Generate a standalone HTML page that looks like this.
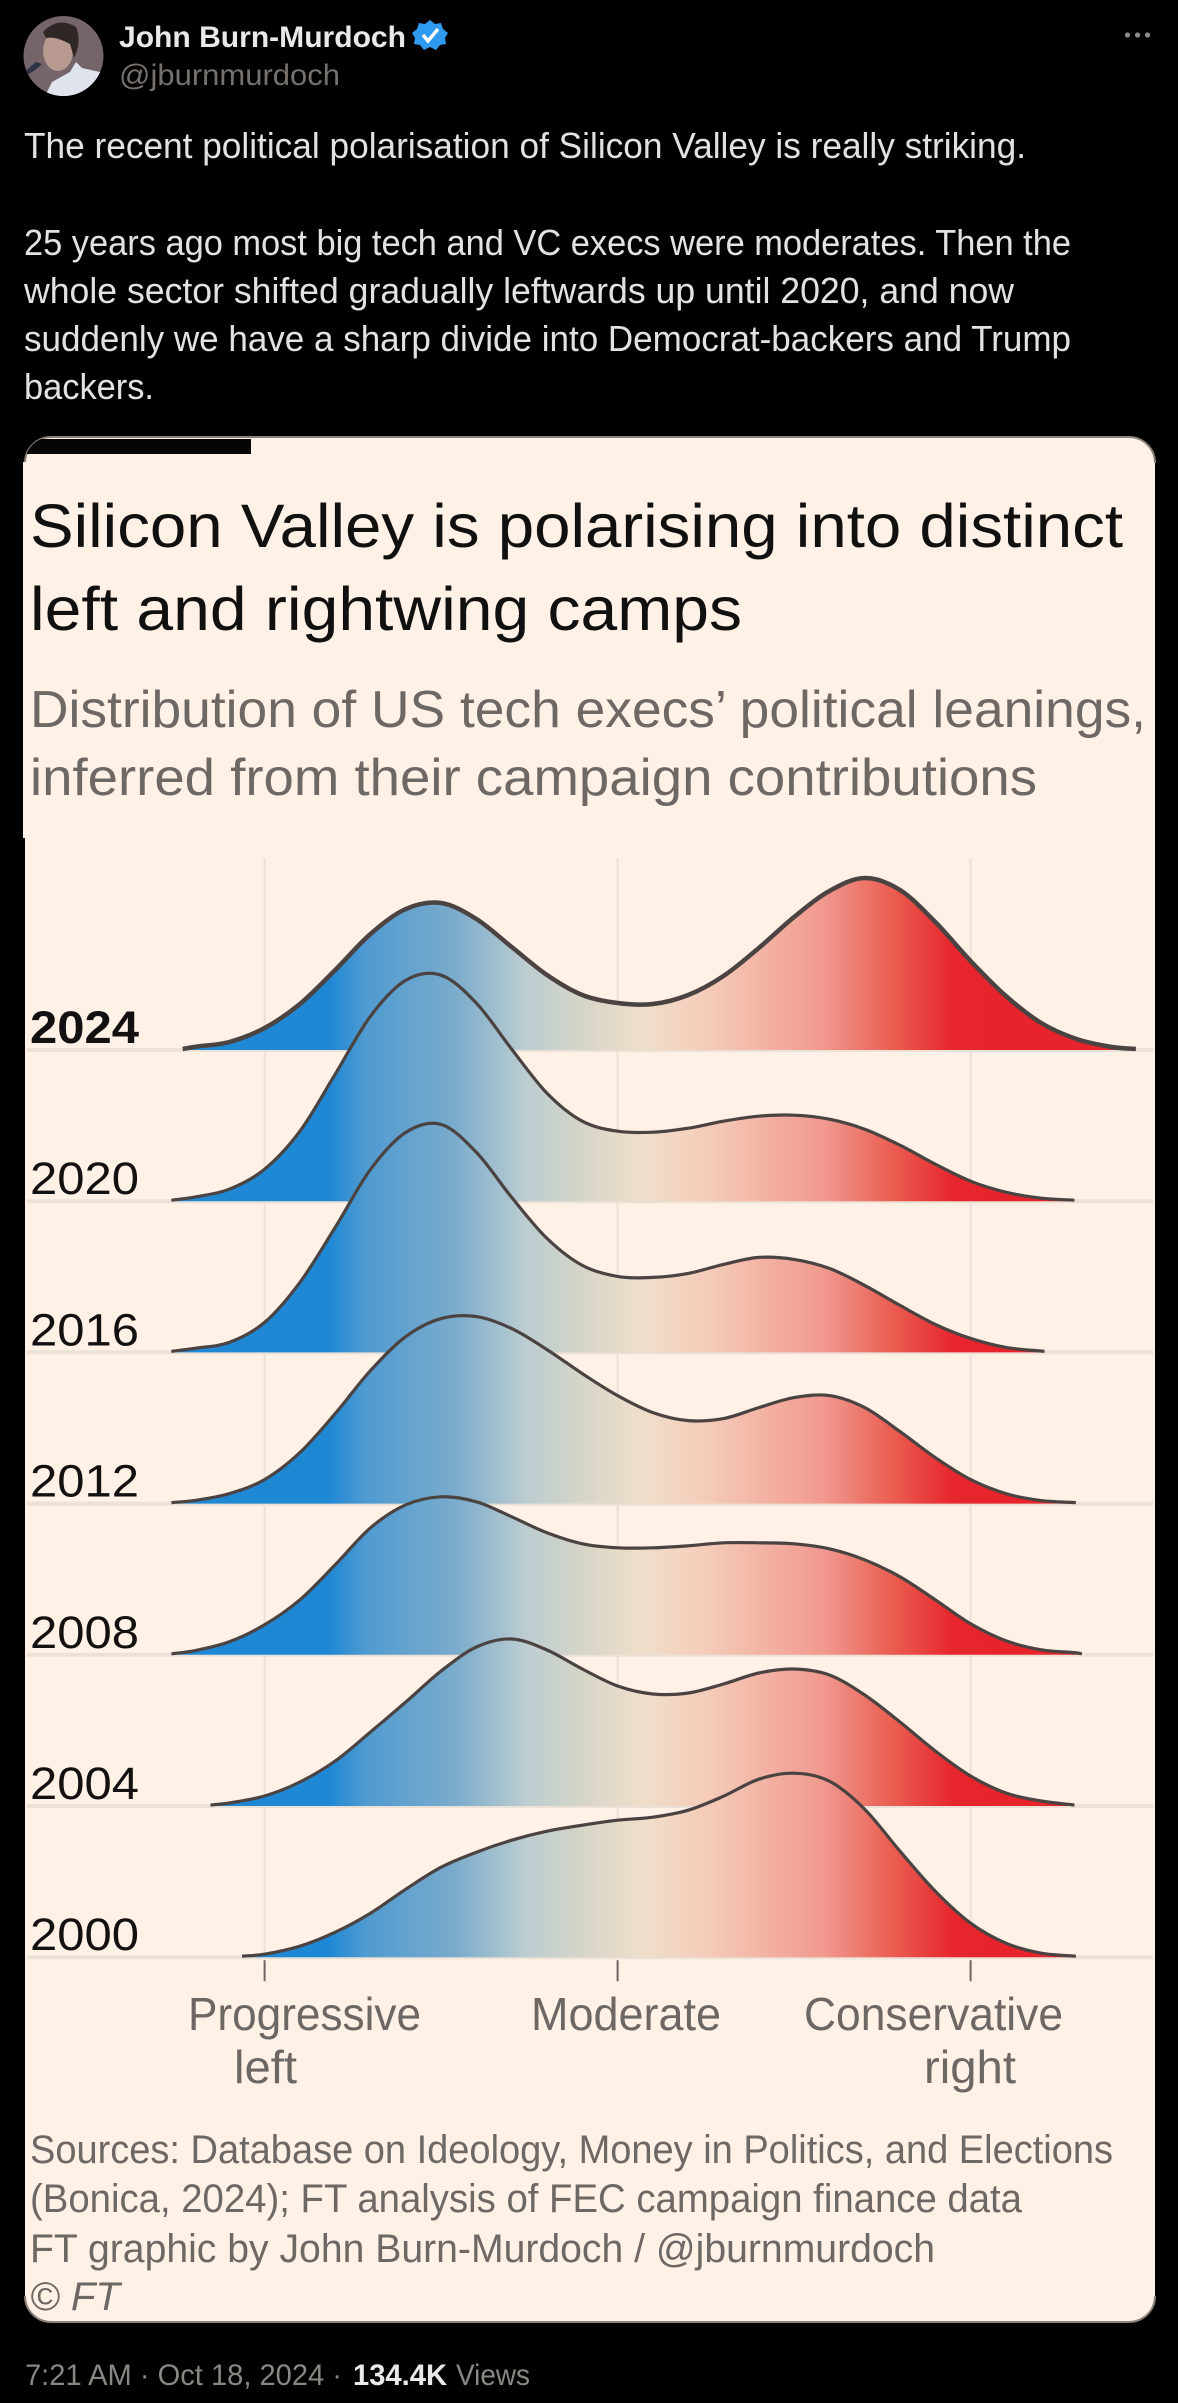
<!DOCTYPE html>
<html lang="en">
<head>
<meta charset="utf-8">
<title>Silicon Valley is polarising</title>
<style>
html,body{margin:0;padding:0;background:#000;width:1178px;height:2403px;overflow:hidden}
svg{display:block}
text{font-family:"Liberation Sans",sans-serif}
</style>
</head>
<body>
<svg id="page" xmlns="http://www.w3.org/2000/svg" width="1178" height="2403" viewBox="0 0 1178 2403">
  <defs>
    <linearGradient id="ideologyGradient" gradientUnits="userSpaceOnUse" x1="0" y1="0" x2="1178" y2="0">
      <stop offset="0.28" stop-color="#1f88d5"/>
      <stop offset="0.31" stop-color="#4f9bd1"/>
      <stop offset="0.385" stop-color="#79abcc"/>
      <stop offset="0.447" stop-color="#bccdd0"/>
      <stop offset="0.50" stop-color="#d9d6c8"/>
      <stop offset="0.545" stop-color="#efdfca"/>
      <stop offset="0.60" stop-color="#f5ccb9"/>
      <stop offset="0.70" stop-color="#f1988e"/>
      <stop offset="0.755" stop-color="#ea6053"/>
      <stop offset="0.81" stop-color="#e7252c"/>
      <stop offset="1" stop-color="#e7222b"/>
    </linearGradient>
    <clipPath id="avatarClip"><circle cx="63.5" cy="56" r="40"/></clipPath>
    <clipPath id="cardClip"><rect x="25" y="437" width="1130" height="1885" rx="26"/></clipPath>
  </defs>

  <g>
    <g clip-path="url(#avatarClip)">
      <rect x="20" y="14" width="90" height="84" fill="#75656a"/>
      <path d="M44 98 L52 82 L70 72 L76 62 L82 68 L100 72 L106 98 Z" fill="#dfe4ec"/>
      <ellipse cx="58" cy="51" rx="15" ry="20" fill="#b89a90"/>
      <path d="M43 32 Q58 16 76 27 Q82 42 74 58 L70 44 Q56 36 46 38 Z" fill="#2f2725"/>
      <path d="M26 76 L38 68 L42 64 L36 62 L24 72 Z" fill="#2d3444"/>
    </g>
    <text x="119" y="47" font-size="30" font-weight="700" fill="#e7e9ea" textLength="287" lengthAdjust="spacingAndGlyphs">John Burn-Murdoch</text>
    <g>
      <path d="M430 20 L435 24 L441 23 L443 29 L448 33 L445 38 L446 44 L440 45 L436 50 L430 47 L424 50 L420 45 L414 44 L415 38 L412 33 L417 29 L419 23 L425 24 Z" fill="#2f9bf0"/>
      <path d="M423 35 L428 41 L438 29" fill="none" stroke="#fff" stroke-width="3.4"/>
    </g>
    <text x="119" y="85" font-size="30" fill="#76716d" textLength="221" lengthAdjust="spacingAndGlyphs">@jburnmurdoch</text>
    <g fill="#8c8c8c">
      <circle cx="1127.5" cy="35" r="2.6"/><circle cx="1137.5" cy="35" r="2.6"/><circle cx="1147.5" cy="35" r="2.6"/>
    </g>
  </g>

  <g font-size="36" fill="#e2e2e0">
    <text x="24" y="158" textLength="1002" lengthAdjust="spacingAndGlyphs">The recent political polarisation of Silicon Valley is really striking.</text>
    <text x="24" y="255" textLength="1047" lengthAdjust="spacingAndGlyphs">25 years ago most big tech and VC execs were moderates. Then the</text>
    <text x="24" y="303" textLength="990" lengthAdjust="spacingAndGlyphs">whole sector shifted gradually leftwards up until 2020, and now</text>
    <text x="24" y="351" textLength="1047" lengthAdjust="spacingAndGlyphs">suddenly we have a sharp divide into Democrat-backers and Trump</text>
    <text x="24" y="399" textLength="130" lengthAdjust="spacingAndGlyphs">backers.</text>
  </g>

  <g>
    <rect x="25" y="437" width="1130" height="1885" rx="26" fill="#fff1e5"/>
    <path d="M25 463 A26 26 0 0 1 51 437 H1129 A26 26 0 0 1 1155 463" fill="none" stroke="#8a8279" stroke-width="2"/>
    <path d="M25 2296 A26 26 0 0 0 51 2322 H1129 A26 26 0 0 0 1155 2296" fill="none" stroke="#8a8279" stroke-width="2"/>
    <rect x="23" y="462" width="3" height="376" fill="#fff1e5"/>
    <rect x="25" y="439" width="226" height="15" fill="#050404" clip-path="url(#cardClip)"/>
    <text x="30" y="547" font-size="61" fill="#111010" textLength="1093" lengthAdjust="spacingAndGlyphs">Silicon Valley is polarising into distinct</text>
    <text x="30" y="630" font-size="61" fill="#111010" textLength="712" lengthAdjust="spacingAndGlyphs">left and rightwing camps</text>
    <text x="30" y="727" font-size="52" fill="#6e6864" textLength="1116" lengthAdjust="spacingAndGlyphs">Distribution of US tech execs’ political leanings,</text>
    <text x="30" y="795" font-size="52" fill="#6e6864" textLength="1007" lengthAdjust="spacingAndGlyphs">inferred from their campaign contributions</text>
  </g>

  <g id="chart">
    <g id="gridLayer"></g>
    <g id="ridgeLayer"></g>
    <g id="tickLayer"></g>
    <g font-size="46" fill="#6d6763">
      <text x="188" y="2030" textLength="233" lengthAdjust="spacingAndGlyphs">Progressive</text>
      <text x="234" y="2083" textLength="63" lengthAdjust="spacingAndGlyphs">left</text>
      <text x="531" y="2030" textLength="190" lengthAdjust="spacingAndGlyphs">Moderate</text>
      <text x="804" y="2030" textLength="259" lengthAdjust="spacingAndGlyphs">Conservative</text>
      <text x="924" y="2083" textLength="92" lengthAdjust="spacingAndGlyphs">right</text>
    </g>
  </g>

  <g font-size="40" fill="#6e6864">
    <text x="30" y="2163" textLength="1083" lengthAdjust="spacingAndGlyphs">Sources: Database on Ideology, Money in Politics, and Elections</text>
    <text x="30" y="2212" textLength="992" lengthAdjust="spacingAndGlyphs">(Bonica, 2024); FT analysis of FEC campaign finance data</text>
    <text x="30" y="2262" textLength="905" lengthAdjust="spacingAndGlyphs">FT graphic by John Burn-Murdoch / @jburnmurdoch</text>
    <text x="30" y="2310" font-style="italic" textLength="90" lengthAdjust="spacingAndGlyphs">© FT</text>
  </g>

  <g font-size="30">
    <text x="25" y="2385" fill="#8a8783" textLength="317" lengthAdjust="spacingAndGlyphs">7:21 AM · Oct 18, 2024 ·</text>
    <text x="353" y="2385" fill="#e7e9ea" font-weight="700" textLength="94" lengthAdjust="spacingAndGlyphs">134.4K</text>
    <text x="456" y="2385" fill="#8a8783" textLength="74" lengthAdjust="spacingAndGlyphs">Views</text>
  </g>
</svg>

<script>
// Chart data
const years = ["2024", "2020", "2016", "2012", "2008", "2004", "2000"];
const tickScores = [-1, 0, 1];
const scoreGrid = [-1.2,-1.1,-1.0,-0.9,-0.8,-0.7,-0.6,-0.5,-0.4,-0.3,-0.2,-0.1,0,0.1,0.2,0.3,0.4,0.5,0.6,0.7,0.8,0.9,1.0,1.1,1.2,1.3,1.4];
const tailStart = [-1.232,-1.264,-1.264,-1.264,-1.264,-1.153,-1.064];
const tailEnd = [1.468,1.294,1.209,1.298,1.315,1.294,1.298];
const tailDensity = 0.01;
const density2024 = [.03,.08,.22,.46,.80,1.16,1.41,1.47,1.31,1.03,.75,.55,.47,.46,.55,.74,1.02,1.33,1.59,1.72,1.60,1.28,.89,.54,.27,.11,.03];
const density2020 = [.04,.12,.32,.70,1.27,1.85,2.21,2.26,1.98,1.52,1.08,.80,.70,.69,.73,.80,.85,.86,.82,.72,.56,.37,.20,.09,.03,null,null];
const density2016 = [.04,.10,.30,.70,1.25,1.83,2.20,2.28,2.00,1.55,1.14,.87,.76,.75,.79,.88,.95,.93,.84,.67,.47,.28,.14,.05,null,null,null];
const density2012 = [.03,.10,.24,.51,.90,1.33,1.67,1.85,1.87,1.75,1.54,1.30,1.08,.91,.83,.85,.96,1.06,1.08,.96,.72,.46,.24,.10,.03,null,null];
const density2008 = [.04,.13,.30,.55,.90,1.27,1.50,1.58,1.53,1.38,1.22,1.11,1.07,1.07,1.09,1.12,1.12,1.11,1.06,.95,.78,.55,.31,.14,.05,.02,null];
const density2004 = [null,.03,.10,.24,.45,.74,1.04,1.35,1.59,1.67,1.56,1.37,1.20,1.12,1.13,1.22,1.33,1.37,1.31,1.11,.84,.55,.30,.13,.05,null,null];
const density2000 = [null,null,.03,.11,.25,.44,.68,.90,1.05,1.17,1.26,1.32,1.37,1.40,1.47,1.61,1.78,1.84,1.76,1.48,1.06,.66,.34,.14,.04,null,null];
const seriesDensity = [density2024, density2020, density2016, density2012, density2008, density2004, density2000];

const NS = "http://www.w3.org/2000/svg";
function xScale(score) { return 617.6 + 353 * score; }
function yScale(rowIndex, density) { return 1050 + 151.2 * rowIndex - 100 * density; }

function make(tag, attrs, parent) {
  const el = document.createElementNS(NS, tag);
  for (const k in attrs) el.setAttribute(k, attrs[k]);
  parent.appendChild(el);
  return el;
}

function smoothPath(pts) {
  const slope = pts.map(function (p, i) {
    const a = pts[Math.max(i - 1, 0)], b = pts[Math.min(i + 1, pts.length - 1)];
    return (b[1] - a[1]) / (b[0] - a[0]);
  });
  let d = "";
  for (let i = 0; i < pts.length - 1; i++) {
    const h = (pts[i + 1][0] - pts[i][0]) / 3;
    d += "C" + (pts[i][0] + h).toFixed(2) + " " + (pts[i][1] + slope[i] * h).toFixed(2) + " " +
         (pts[i + 1][0] - h).toFixed(2) + " " + (pts[i + 1][1] - slope[i + 1] * h).toFixed(2) + " " +
         pts[i + 1][0].toFixed(2) + " " + pts[i + 1][1].toFixed(2);
  }
  return d;
}

const gridLayer = document.getElementById("gridLayer");
const ridgeLayer = document.getElementById("ridgeLayer");
const tickLayer = document.getElementById("tickLayer");
const lastBaseline = yScale(years.length - 1, 0);

tickScores.forEach(function (score) {
  const x = xScale(score);
  const grid = make("line", {x1: x, x2: x, y1: 858, y2: lastBaseline, stroke: "#ebe1d8", "stroke-width": 2}, gridLayer);
  
  
  const tick = make("line", {x1: x, x2: x, y1: lastBaseline + 3, y2: lastBaseline + 24, stroke: "#6d6763", "stroke-width": 2}, tickLayer);
  
  
});

years.forEach(function (year, i) {
  const group = make("g", {}, ridgeLayer);
  
  

  const base = yScale(i, 0);
  const rule = make("line", {x1: 27, x2: 1153, y1: base, y2: base, stroke: "#ebe1d7", "stroke-width": 4}, group);
  
  

  const label = make("text", {x: 30, y: base - 7, "font-size": 45, fill: "#121010", "font-weight": i === 0 ? 700 : 400, textLength: 109, lengthAdjust: "spacingAndGlyphs"}, group);
  label.textContent = year;
  
  

  const pts = [[xScale(tailStart[i]), yScale(i, tailDensity)]];
  seriesDensity[i].forEach(function (v, k) {
    if (v !== null) pts.push([xScale(scoreGrid[k]), yScale(i, v)]);
  });
  pts.push([xScale(tailEnd[i]), yScale(i, tailDensity)]);
  const curve = "M" + pts[0][0].toFixed(2) + " " + pts[0][1].toFixed(2) + smoothPath(pts);

  const area = make("path", {d: curve + "L" + pts[pts.length - 1][0].toFixed(2) + " " + base + "L" + pts[0][0].toFixed(2) + " " + base + "Z", fill: "url(#ideologyGradient)"}, group);
  
  

  const line = make("path", {d: curve, fill: "none", stroke: "#4a4341", "stroke-width": i === 0 ? 4.5 : 3.2}, group);
  
  
});
</script>
</body>
</html>
